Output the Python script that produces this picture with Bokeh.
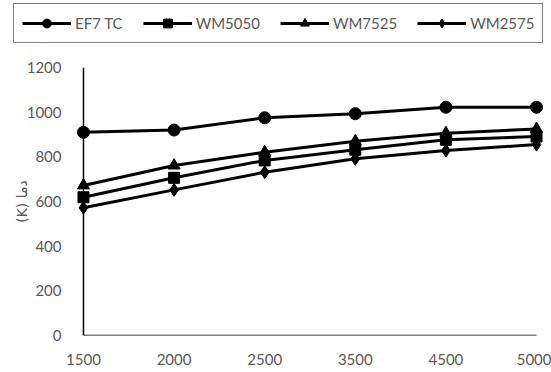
from bokeh.plotting import figure
from bokeh.models import Range1d, FixedTicker, Legend, LegendItem
from bokeh.layouts import column
from bokeh.embed import file_html
from bokeh.resources import INLINE

categories = ["1500", "2000", "2500", "3500", "4500", "5000"]
ef7_tc = [910, 920, 975, 993, 1022, 1022]
wm5050 = [619, 706, 784, 832, 876, 891]
wm7525 = [672, 761, 821, 870, 906, 925]
wm2575 = [572, 652, 731, 791, 828, 855]
series_names = ["EF7 TC", "WM5050", "WM7525", "WM2575"]
y_ticks = [0, 200, 400, 600, 800, 1000, 1200]
y_label = "(K) دما"

xs = list(range(len(categories)))
pad = 0.077
series = [ef7_tc, wm5050, wm7525, wm2575]
markers = ["circle", "square", "triangle", "diamond"]
sizes = [12, 11, 12, 13]

# ---- main chart ----
p = figure(width=551, height=322, output_backend="svg", toolbar_location=None,
           x_range=Range1d(-pad, len(categories) - 1 + pad), y_range=Range1d(0, 1200),
           min_border_left=76, min_border_right=8, min_border_top=17, min_border_bottom=37)
p.frame_align = False

p.segment(x0=[0, 0], y0=[0, 0], x1=[0, len(categories) - 1], y1=[y_ticks[-1], 0],
          line_color="black", line_width=1.5)

for name, ys, mk, sz in zip(series_names, series, markers, sizes):
    p.line(xs, ys, line_color="black", line_width=3)
    p.scatter(xs, ys, marker=mk, size=sz, fill_color="black", line_color="black")

p.xaxis.ticker = FixedTicker(ticks=xs)
p.xaxis.major_label_overrides = {i: c for i, c in enumerate(categories)}
p.yaxis.ticker = FixedTicker(ticks=y_ticks)
p.yaxis.axis_label = y_label

for ax in [p.xaxis[0], p.yaxis[0]]:
    ax.axis_line_color = None
    ax.major_tick_line_color = None
    ax.minor_tick_line_color = None
    ax.major_label_text_font = "Lato"
    ax.major_label_text_font_size = "15px"
    ax.major_label_text_color = "#595959"
p.xaxis.major_label_standoff = 12
p.yaxis.major_label_standoff = 9

p.yaxis.axis_label_text_font = "DejaVu Sans"
p.yaxis.axis_label_text_font_size = "14px"
p.yaxis.axis_label_text_font_style = "normal"
p.yaxis.axis_label_text_color = "#595959"
p.yaxis.axis_label_standoff = -6

p.grid.visible = False
p.outline_line_color = None

# ---- legend strip ----
lf = figure(width=551, height=50, output_backend="svg", toolbar_location=None,
            x_range=Range1d(-20, -19), y_range=Range1d(-20, -19),
            x_axis_location=None, y_axis_location=None, min_border=0)
lf.frame_align = False
lf.grid.visible = False
lf.outline_line_color = None
items = []
for name, ys, mk, sz in zip(series_names, series, markers, sizes):
    ln = lf.line(xs, ys, line_color="black", line_width=3)
    sc = lf.scatter(xs, ys, marker=mk, size=sz, fill_color="black", line_color="black")
    items.append(LegendItem(label=name, renderers=[ln, sc]))

legend = Legend(items=items, orientation="horizontal", location=(13, 7),
                border_line_color="black", border_line_width=1.5,
                label_text_font="Lato", label_text_font_size="15px",
                label_text_color="#595959", glyph_width=49, glyph_height=22,
                spacing=20, padding=8, margin=0, label_standoff=4,
                background_fill_alpha=1)
lf.add_layout(legend, "center")

layout = column(lf, p, spacing=0)
open("out.html", "w").write(file_html(layout, INLINE))
